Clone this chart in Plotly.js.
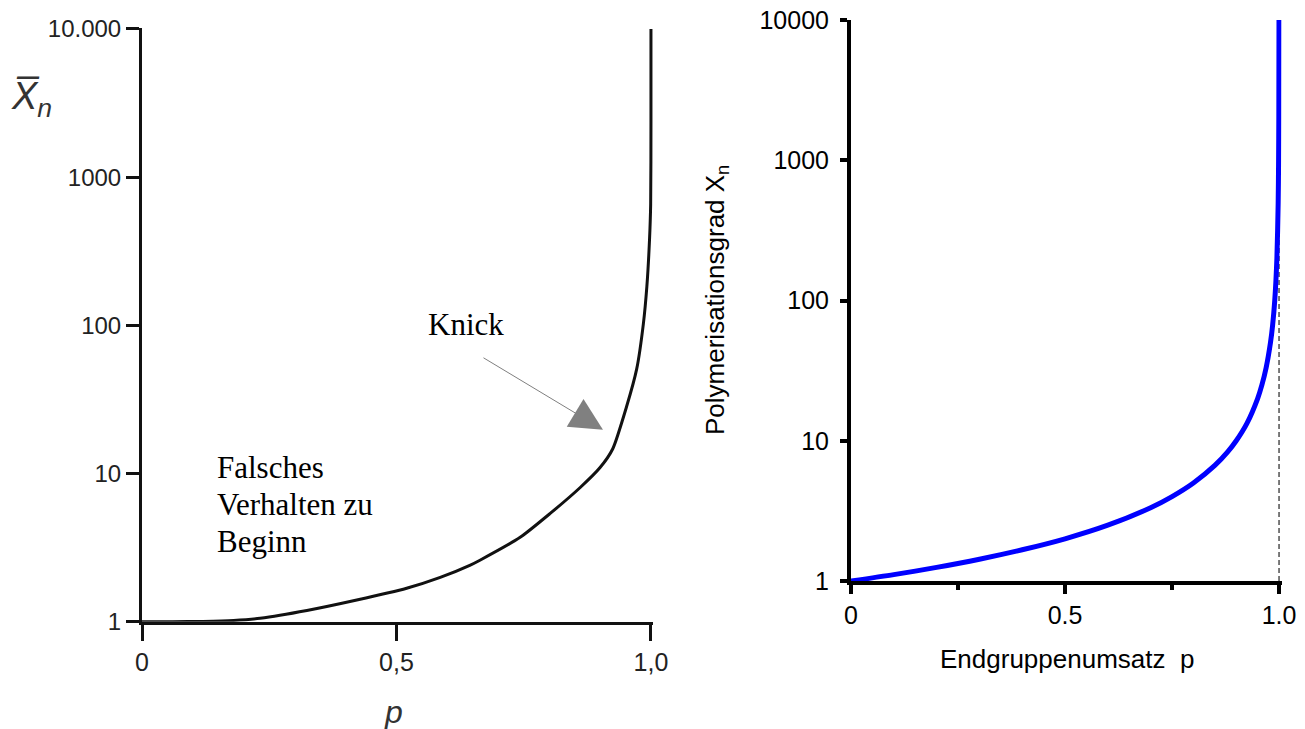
<!DOCTYPE html>
<html>
<head>
<meta charset="utf-8">
<script src="https://cdn.plot.ly/plotly-3.0.1.min.js"></script>
<style>html,body{margin:0;padding:0;background:#fff;}#chart{width:1305px;height:729px;}</style>
</head>
<body>
<div id="chart"></div>
<script>
// ---- Left panel: real behaviour (with early deviation and kink) ----
var leftP = [0, 0.06, 0.12, 0.18, 0.232, 0.324, 0.422, 0.52, 0.586, 0.644, 0.664, 0.743, 0.802, 0.861, 0.900, 0.925, 0.952, 0.972, 0.985, 0.992, 0.997, 0.9994, 1.0, 1.0];
var leftX = [1, 1.0, 1.005, 1.02, 1.055, 1.19, 1.40, 1.68, 1.99, 2.40, 2.6, 3.71, 5.38, 8.05, 10.97, 14.7, 28.2, 50.8, 102, 184, 369, 654, 2350, 10000];
var leftXTickVals = [0, 0.5, 1];
var leftXTickText = ['0', '0,5', '1,0'];
var leftYTickVals = [1, 10, 100, 1000, 10000];
var leftYTickText = ['1', '10', '100', '1000', '10.000'];
var noteLines = ['Falsches', 'Verhalten zu', 'Beginn'];

// ---- Right panel: ideal Carothers curve ----
var rightP = [0, 0.1, 0.2, 0.3, 0.4, 0.5, 0.6, 0.7, 0.75, 0.8, 0.85, 0.88, 0.9, 0.925, 0.95, 0.96, 0.97, 0.98, 0.985, 0.99, 0.995, 0.998, 0.999, 0.9995, 0.9999];
var rightX = [1, 1.11, 1.25, 1.43, 1.67, 2, 2.5, 3.33, 4, 5, 6.67, 8.33, 10, 13.3, 20, 25, 33.3, 50, 66.7, 100, 200, 500, 1000, 2000, 10000];
var limitP = [1, 1];
var limitX = [1, 10000];
var rightXTickVals = [0, 0.5, 1];
var rightXTickText = ['0', '0.5', '1.0'];
var rightXMinorVals = [0.25, 0.75];
var rightYTickVals = [1, 10, 100, 1000, 10000];
var rightYTickText = ['1', '10', '100', '1000', '10000'];

var W = 1305, H = 729;
function px(x) { return x / W; }
function py(y) { return (H - y) / H; }
// left panel pixel helpers for text placement
function ly(y) { return (621.7 - y) / 148.7; }
function lx(x) { return (x - 142) / 509; }

var traces = [
  {x: leftP, y: leftX, xaxis: 'x', yaxis: 'y', mode: 'lines', type: 'scatter',
   line: {color: '#111', width: 3, shape: 'spline', smoothing: 0.6}, hoverinfo: 'skip'},
  {x: limitP, y: limitX, xaxis: 'x2', yaxis: 'y2', mode: 'lines', type: 'scatter',
   line: {color: '#222', width: 1.2, dash: '5px,3px'}, hoverinfo: 'skip'},
  {x: rightP, y: rightX, xaxis: 'x2', yaxis: 'y2', mode: 'lines', type: 'scatter',
   line: {color: '#0000ff', width: 5, shape: 'spline', smoothing: 0.7}, hoverinfo: 'skip'}
];

var sansL = 'Liberation Sans, Arial, sans-serif';
var serif = 'Liberation Serif, Times New Roman, serif';

var annotations = [
  {xref: 'paper', yref: 'paper', x: px(9), y: py(99), xanchor: 'left', yanchor: 'middle',
   text: '<i>X\u0305<sub>n</sub></i>', showarrow: false,
   font: {family: sansL, size: 38, color: '#333'}},
  {xref: 'paper', yref: 'paper', x: px(393), y: py(712), xanchor: 'center', yanchor: 'middle',
   text: '<i>p</i>', showarrow: false,
   font: {family: sansL, size: 32, color: '#333'}},
  {xref: 'x', yref: 'y', x: lx(466.5), y: ly(323), xanchor: 'center', yanchor: 'middle',
   text: 'Knick', showarrow: false,
   font: {family: serif, size: 31, color: '#000'}},
  {xref: 'x', yref: 'y', x: 0.9057, y: 1.296, axref: 'x', ayref: 'y', ax: 0.668, ay: 1.787,
   text: '', showarrow: true, arrowhead: 2, arrowsize: 6.5, arrowwidth: 1, arrowcolor: '#808080'},
  {xref: 'paper', yref: 'paper', x: px(716), y: py(300), xanchor: 'center', yanchor: 'middle',
   text: 'Polymerisationsgrad X<sub>n</sub>', textangle: -90, showarrow: false,
   font: {family: sansL, size: 26, color: '#000'}},
  {xref: 'paper', yref: 'paper', x: px(1067), y: py(659), xanchor: 'center', yanchor: 'middle',
   text: 'Endgruppenumsatz\u00a0\u00a0p', showarrow: false,
   font: {family: sansL, size: 26, color: '#000'}}
];
var noteY = [467, 504, 541];
for (var i = 0; i < noteLines.length; i++) {
  annotations.push({xref: 'x', yref: 'y', x: lx(215), y: ly(noteY[i]), xanchor: 'left', yanchor: 'middle',
    text: noteLines[i], showarrow: false, font: {family: serif, size: 31, color: '#000'}});
}

var layout = {
  width: W, height: H,
  margin: {l: 0, r: 0, t: 0, b: 0},
  paper_bgcolor: '#fff', plot_bgcolor: '#fff',
  showlegend: false,
  xaxis: {
    domain: [px(142), px(653)], range: [0, 1.004], anchor: 'y',
    tickvals: leftXTickVals, ticktext: leftXTickText,
    ticks: 'outside', ticklen: 16, tickwidth: 3, tickcolor: '#111',
    showline: true, linewidth: 3, linecolor: '#111',
    showgrid: false, zeroline: false, ticklabelstandoff: 0,
    tickfont: {family: sansL, size: 25, color: '#222'}
  },
  yaxis: {
    domain: [py(621.7), py(27.5)], type: 'log', range: [0, 4.01], anchor: 'x',
    tickvals: leftYTickVals, ticktext: leftYTickText,
    ticks: 'outside', ticklen: 13, tickwidth: 3, tickcolor: '#111',
    showline: true, linewidth: 3, linecolor: '#111',
    showgrid: false, zeroline: false,
    tickfont: {family: sansL, size: 24, color: '#222'}
  },
  xaxis2: {
    domain: [px(851), px(1281.6)], range: [0, 1.006], anchor: 'y2',
    tickvals: rightXTickVals, ticktext: rightXTickText,
    ticks: 'outside', ticklen: 9, tickwidth: 4, tickcolor: '#000',
    minor: {tickvals: rightXMinorVals, ticks: 'outside', ticklen: 5, tickwidth: 4, tickcolor: '#000'},
    showline: true, linewidth: 4, linecolor: '#000',
    showgrid: false, zeroline: false, ticklabelstandoff: 0,
    tickfont: {family: sansL, size: 25, color: '#000'}
  },
  yaxis2: {
    domain: [py(581), py(20)], type: 'log', range: [0, 4], anchor: 'x2',
    tickvals: rightYTickVals, ticktext: rightYTickText,
    ticks: 'outside', ticklen: 7, tickwidth: 4, tickcolor: '#000',
    showline: true, linewidth: 4, linecolor: '#000',
    showgrid: false, zeroline: false, ticklabelstandoff: 6,
    tickfont: {family: sansL, size: 25, color: '#000'}
  },
  annotations: annotations
};

Plotly.newPlot('chart', traces, layout, {staticPlot: true, displayModeBar: false});
</script>
</body>
</html>
